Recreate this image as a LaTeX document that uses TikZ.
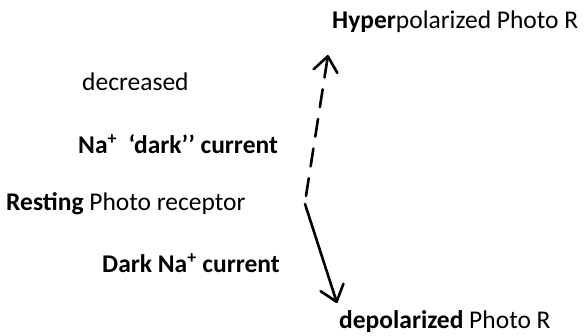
\documentclass[tikz,border=0pt]{standalone}
\usepackage{fontspec}
\setmainfont{Carlito}
\usetikzlibrary{arrows.meta}
\begin{document}
\begin{tikzpicture}[x=1pt,y=-1pt,
  lbl/.style={inner sep=0pt,font=\fontsize{25.5}{30}\selectfont},
  flow/.style={line width=2.6pt,line cap=round,
    -{Straight Barb[length=15pt,width=24pt,line width=2.6pt,round]}}]
\useasboundingbox (0,0) rectangle (584,336);
\node[lbl,anchor=west] (hyper) at (332,22) {\textbf{Hyper}polarized Photo R};
\node[lbl,anchor=west] (decr) at (82,82) {decreased};
\node[lbl,anchor=west] (nadark) at (78,144) {\textbf{Na\textsuperscript{+}\ \ ‘dark’’ current}};
\node[lbl,anchor=west] (rest) at (6,204) {\textbf{Resting} Photo receptor};
\node[lbl,anchor=west] (darkna) at (102,263) {\textbf{Dark Na\textsuperscript{+} current}};
\node[lbl,anchor=west] (depol) at (339,322) {\textbf{depolarized} Photo R};
\coordinate (dashstart) at (306,196);
\coordinate (pivot) at (305,204);
\coordinate (uptip) at (328,55);
\coordinate (downtip) at (337,303);
\draw[flow,dash pattern=on 18pt off 12pt] (dashstart) -- (uptip);
\draw[flow] (pivot) -- (downtip);
\end{tikzpicture}
\end{document}
